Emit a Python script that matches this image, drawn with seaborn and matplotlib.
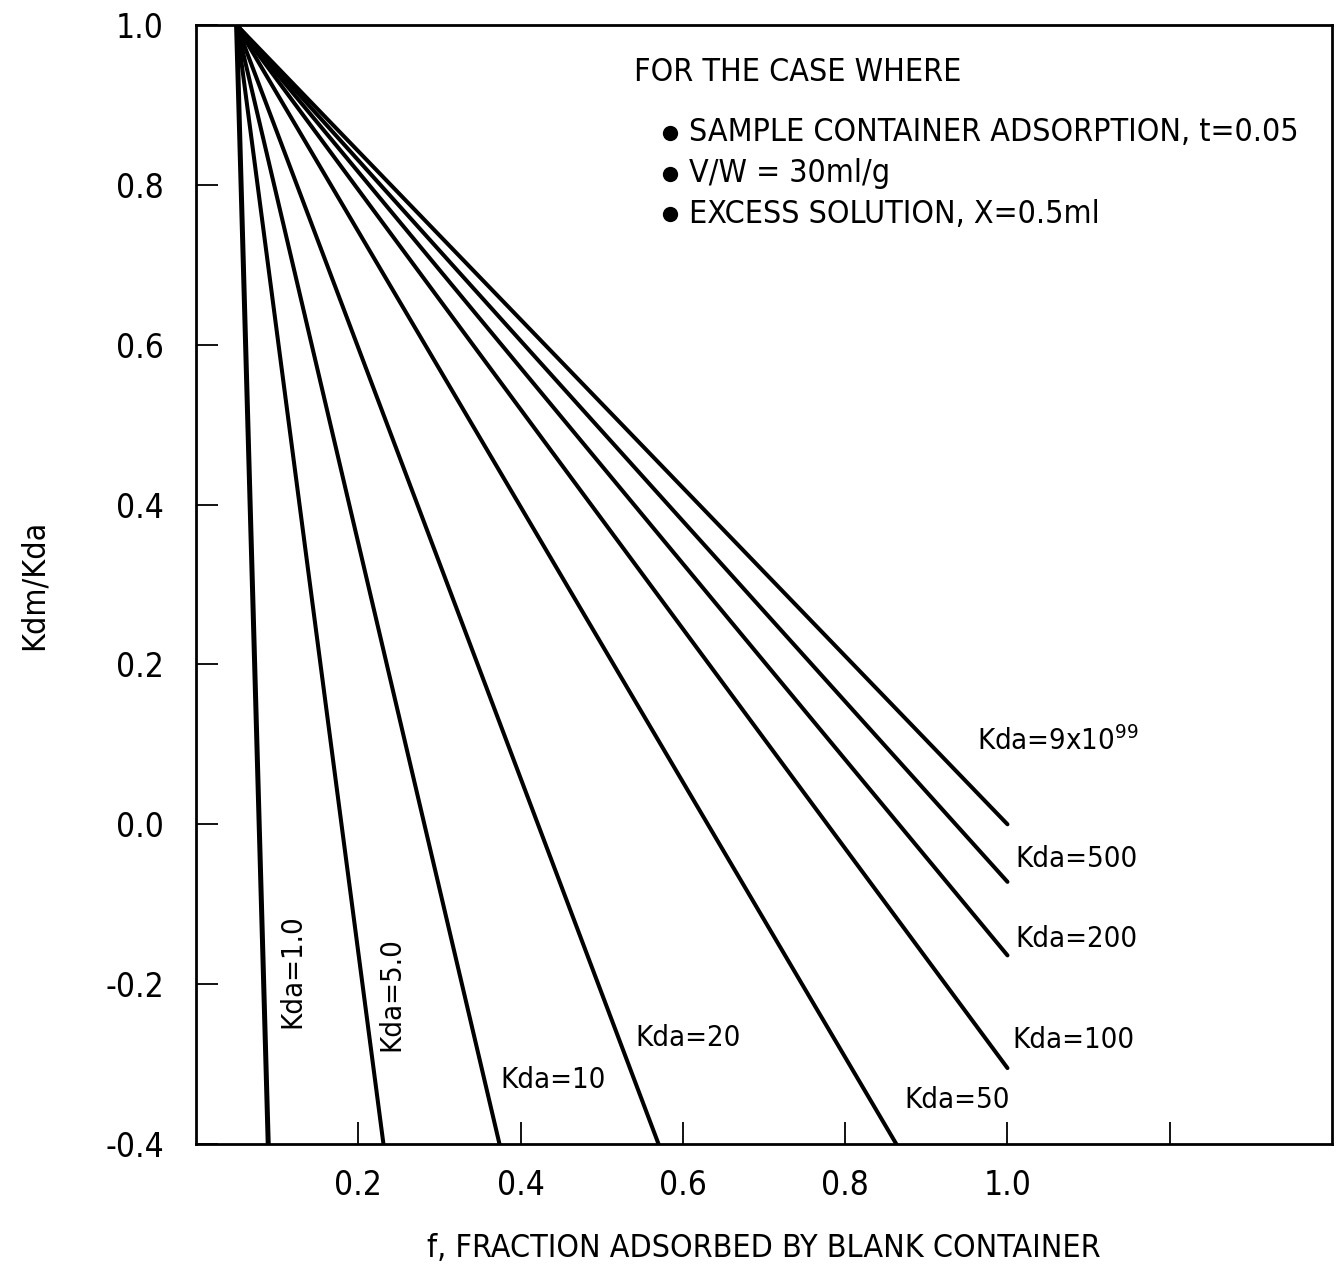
import matplotlib
matplotlib.use("Agg")
import matplotlib.pyplot as plt
import seaborn as sns
import pandas as pd

# Sample container adsorption t: every curve starts at (t, 1.0)
t_start = 0.05
ratio_start = 1.0

# Curve labels and the end point of each straight line
kda_labels = ["Kda=1.0", "Kda=5.0", "Kda=10", "Kda=20", "Kda=50",
              "Kda=100", "Kda=200", "Kda=500", "Kda=9x10$^{99}$"]
f_end = [0.089, 0.231, 0.374, 0.570, 0.863, 1.0, 1.0, 1.0, 1.0]
ratio_end = [-0.4, -0.4, -0.4, -0.4, -0.4, -0.305, -0.164, -0.072, 0.0]

x_ticks = [0.2, 0.4, 0.6, 0.8, 1.0, 1.2]
x_ticklabels = ["0.2", "0.4", "0.6", "0.8", "1.0", ""]
y_ticks = [-0.4, -0.2, 0.0, 0.2, 0.4, 0.6, 0.8, 1.0]
y_ticklabels = ["-0.4", "-0.2", "0.0", "0.2", "0.4", "0.6", "0.8", "1.0"]

conditions = ["SAMPLE CONTAINER ADSORPTION, t=0.05",
              "V/W = 30ml/g",
              "EXCESS SOLUTION, X=0.5ml"]

sns.set_theme(style="white")
plt.rcParams["font.family"] = ["DejaVu Sans"]
plt.rcParams["font.stretch"] = "condensed"
plt.rcParams["text.color"] = "black"
plt.rcParams["axes.labelcolor"] = "black"
plt.rcParams["mathtext.fontset"] = "custom"
plt.rcParams["mathtext.rm"] = "DejaVu Sans:stretch=condensed"

rows = []
for lab, fe, re in zip(kda_labels, f_end, ratio_end):
    rows.append({"curve": lab, "f": t_start, "ratio": ratio_start})
    rows.append({"curve": lab, "f": fe, "ratio": re})
df = pd.DataFrame(rows)

fig = plt.figure(figsize=(13.37, 12.70), dpi=100)
ax = fig.add_axes([0.1466, 0.0992, 0.8497, 0.8811])

widths = {lab: 2.9 for lab in kda_labels}
widths["Kda=1.0"] = 3.6
for lab in kda_labels:
    sns.lineplot(data=df[df["curve"] == lab], x="f", y="ratio", ax=ax,
                 color="black", lw=widths[lab], sort=False, legend=False,
                 solid_capstyle="round")

ax.set_xlim(0, 1.4)
ax.set_ylim(-0.4, 1.0)
ax.set_xticks(x_ticks)
ax.set_xticklabels(x_ticklabels)
ax.set_yticks(y_ticks)
ax.set_yticklabels(y_ticklabels)
ax.tick_params(axis="both", direction="in", length=16, width=1.3,
               labelsize=24, colors="black", bottom=True, left=True)
ax.tick_params(axis="x", pad=18)
ax.tick_params(axis="y", pad=23)
for s in ax.spines.values():
    s.set_color("black")
    s.set_linewidth(2.0)

ax.set_xlabel("f, FRACTION ADSORBED BY BLANK CONTAINER", fontsize=23,
              labelpad=22)
ax.set_ylabel("Kdm/Kda", fontsize=23, labelpad=40)

# Conditions box text
ax.text(0.540, 0.941, "FOR THE CASE WHERE", fontsize=23, va="center",
        ha="left")
for i, c in enumerate(conditions):
    yy = 0.865 - i * 0.051
    ax.plot([0.584], [yy], marker="o", ms=10, color="black")
    ax.text(0.607, yy, c, fontsize=23, va="center", ha="left")

# Curve labels
label_pos = {
    "Kda=1.0": (0.119, -0.184, 90),
    "Kda=5.0": (0.241, -0.212, 90),
    "Kda=10": (0.375, -0.320, 0),
    "Kda=20": (0.541, -0.267, 0),
    "Kda=50": (0.873, -0.345, 0),
    "Kda=100": (1.006, -0.270, 0),
    "Kda=200": (1.010, -0.143, 0),
    "Kda=500": (1.010, -0.043, 0),
    "Kda=9x10$^{99}$": (0.962, 0.104, 0),
}
for lab in kda_labels:
    x, y, rot = label_pos[lab]
    ax.text(x, y, lab, fontsize=21, rotation=rot,
            ha="center" if rot else "left", va="center")

fig.savefig("out.png", dpi=100, facecolor="white")
